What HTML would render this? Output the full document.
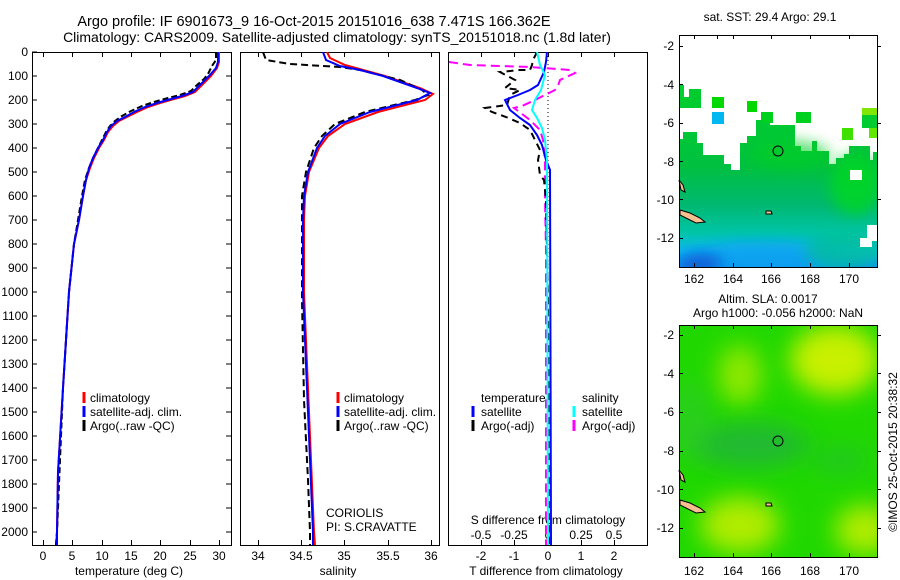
<!DOCTYPE html>
<html><head><meta charset="utf-8"><style>
html,body{margin:0;padding:0;background:#fff;}
svg{display:block;font-family:"Liberation Sans",sans-serif;}
text{font-size:12px;fill:#000;}
</style></head><body>
<svg width="900" height="580" viewBox="0 0 900 580" xmlns="http://www.w3.org/2000/svg">
<defs>
<linearGradient id="sst" x1="0" y1="0" x2="0" y2="1" gradientUnits="objectBoundingBox">
<stop offset="0" stop-color="#00cc30"/><stop offset="0.35" stop-color="#00c040"/>
<stop offset="0.6" stop-color="#00b870"/><stop offset="0.78" stop-color="#00c4a8"/>
<stop offset="0.9" stop-color="#10b8f0"/><stop offset="1" stop-color="#1090f0"/>
</linearGradient>
<filter id="bl" x="-50%" y="-50%" width="200%" height="200%"><feGaussianBlur stdDeviation="12"/></filter>
<filter id="bl2" x="-50%" y="-50%" width="200%" height="200%"><feGaussianBlur stdDeviation="7"/></filter>
<clipPath id="c1"><rect x="679" y="35" width="198" height="232"/></clipPath>
<clipPath id="c2"><rect x="679" y="325" width="198" height="232"/></clipPath>
<clipPath id="p1"><rect x="32" y="52" width="199" height="493"/></clipPath>
<clipPath id="p2"><rect x="240" y="52" width="199" height="493"/></clipPath>
<clipPath id="p3"><rect x="448" y="52" width="200" height="493"/></clipPath>
</defs>

<text x="314" y="26" text-anchor="middle" style="font-size:14.5px">Argo profile: IF 6901673_9 16-Oct-2015 20151016_638 7.471S 166.362E</text>
<text x="337" y="42" text-anchor="middle" style="font-size:14px">Climatology: CARS2009. Satellite-adjusted climatology: synTS_20151018.nc (1.8d later)</text>

<g fill="none" stroke="#000" stroke-width="1">
<rect x="32.5" y="52.5" width="199" height="493"/>
<rect x="240.5" y="52.5" width="199" height="493"/>
<rect x="448.5" y="52.5" width="199" height="493"/>
</g>
<g stroke="#000" stroke-width="1">
<path d="M32 52h5M32 76h5M32 100h5M32 124h5M32 148h5M32 172h5M32 196h5M32 220h5M32 244h5M32 268h5M32 292h5M32 316h5M32 340h5M32 364h5M32 388h5M32 412h5M32 436h5M32 460h5M32 484h5M32 508h5M32 532h5
M231 76h-5M231 100h-5M231 124h-5M231 148h-5M231 172h-5M231 196h-5M231 220h-5M231 244h-5M231 268h-5M231 292h-5M231 316h-5M231 340h-5M231 364h-5M231 388h-5M231 412h-5M231 436h-5M231 460h-5M231 484h-5M231 508h-5M231 532h-5"/>
<path d="M43.5 545v-5M72.5 545v-5M102.5 545v-5M131.5 545v-5M160.5 545v-5M190.5 545v-5M219.5 545v-5M43.5 52v5M72.5 52v5M102.5 52v5M131.5 52v5M160.5 52v5M190.5 52v5M219.5 52v5"/>
<path d="M258.5 545v-5M301.5 545v-5M344.5 545v-5M388.5 545v-5M431.5 545v-5M258.5 52v5M301.5 52v5M344.5 52v5M388.5 52v5M431.5 52v5"/>
<path d="M481.5 52v5M514.5 52v5M548.5 52v5M581.5 52v5M614.5 52v5M481.5 545v-5M514.5 545v-5M548.5 545v-5M581.5 545v-5M614.5 545v-5"/>
</g>
<g text-anchor="end">
<text x="28" y="56">0</text><text x="28" y="80">100</text><text x="28" y="104">200</text><text x="28" y="128">300</text><text x="28" y="152">400</text><text x="28" y="176">500</text><text x="28" y="200">600</text><text x="28" y="224">700</text><text x="28" y="248">800</text><text x="28" y="272">900</text><text x="28" y="296">1000</text><text x="28" y="320">1100</text><text x="28" y="344">1200</text><text x="28" y="368">1300</text><text x="28" y="392">1400</text><text x="28" y="416">1500</text><text x="28" y="440">1600</text><text x="28" y="464">1700</text><text x="28" y="488">1800</text><text x="28" y="512">1900</text><text x="28" y="536">2000</text>
</g>
<g text-anchor="middle">
<text x="43" y="560">0</text><text x="72" y="560">5</text><text x="102" y="560">10</text><text x="131" y="560">15</text><text x="160" y="560">20</text><text x="190" y="560">25</text><text x="219" y="560">30</text>
<text x="129" y="575">temperature (deg C)</text>
<text x="258" y="560">34</text><text x="301" y="560">34.5</text><text x="344" y="560">35</text><text x="388" y="560">35.5</text><text x="431" y="560">36</text>
<text x="338" y="575">salinity</text>
<text x="481" y="560">-2</text><text x="514" y="560">-1</text><text x="548" y="560">0</text><text x="581" y="560">1</text><text x="614" y="560">2</text>
<text x="546" y="575">T difference from climatology</text>
<text x="548" y="524">S difference from climatology</text>
<text x="481" y="539">-0.5</text><text x="514" y="539">-0.25</text><text x="548" y="539">0</text><text x="581" y="539">0.25</text><text x="614" y="539">0.5</text>
</g>

<g fill="none" stroke-width="2" clip-path="url(#p1)">
<polyline stroke="#f00" points="219,52 219,62 217,68 211,76 207,80 201,86 195,92 185,96 174,99 160,103 148,107 137,112 127,117 119,121 113,126 108,132 104,140 99,148 94,158 90,168 86,180 83,196 79,220 74,244 69,292 63,388 58,472 57,532 56,545"/>
<polyline stroke="#000" stroke-dasharray="6,3" points="216,52 216,60 212,66 208,74 204,79 197,85 191,91 180,95 168,98 154,102 142,106 131,111 122,116 115,121 110,126 106,132 102,140 98,148 93,158 89,168 85,180 82,196 78,220 74,244 69,292 63,388 57,532 56,545"/>
<polyline stroke="#00f" points="218,52 218,62 216,68 209,76 205,80 199,86 193,92 182,96 171,99 157,103 145,107 134,112 125,117 117,121 111,126 107,132 103,140 98,148 93,158 89,168 86,180 83,196 79,220 74,244 69,292 63,388 58,472 57,532 57,545"/>
</g>
<g fill="none" stroke-width="2" clip-path="url(#p2)">
<polyline stroke="#f00" points="327,52 330,58 345,65 385,76 420,88 433,94 425,100 378,112 345,124 328,136 319,148 309,172 305,196 304,220 304,292 306,340 308,388 311,460 314,532 315,545"/>
<polyline stroke="#000" stroke-dasharray="7,4" points="263,52 266,60 290,64 340,67 360,70 400,80 422,90 428,95 415,100 365,112 335,124 322,136 314,148 306,172 302,196 302,300 304,400 308,480 310,532 310,545"/>
<polyline stroke="#00f" points="323,52 326,60 340,66 360,70 383,76 417,88 430,93 417,100 370,112 340,124 325,136 317,148 308,172 304,196 303,220 303,292 305,340 307,388 310,460 313,532 313,545"/>
</g>
<g fill="none" clip-path="url(#p3)">
<line x1="548" y1="52" x2="548" y2="545" stroke="#000" stroke-width="1" stroke-dasharray="1,3"/>
<polyline stroke="#f0f" stroke-width="2" stroke-dasharray="9,5" points="449,62 470,65 530,67 570,70 575,73 560,80 558,86 555,90 545,95 535,100 522,106 514,108 530,120 540,130 543,140 545,160 545,200 546,250 546,400 546,545"/>
<polyline stroke="#000" stroke-width="2" stroke-dasharray="7,5" points="537,52 533,60 532,65 530,70 520,70 500,72 515,80 505,88 520,90 510,95 507,105 485,108 492,112 506,117 520,123 530,130 535,140 540,150 538,160 540,175 544,180 546,200 548,300 549,545"/>
<polyline stroke="#00f" stroke-width="2" points="547,52 546,62 544,72 538,85 530,90 518,95 505,100 510,110 520,118 530,125 537,135 542,145 546,160 550,170 551,545"/>
<polyline stroke="#0ff" stroke-width="2" points="537,52 540,65 545,75 541,90 535,100 532,110 537,118 542,128 545,140 547,160 548,545"/>
</g>

<g stroke-width="3">
<line x1="84" y1="392" x2="84" y2="403" stroke="#f00"/><line x1="84" y1="406" x2="84" y2="417" stroke="#00f"/><line x1="84" y1="420" x2="84" y2="431" stroke="#000"/>
<line x1="338" y1="392" x2="338" y2="403" stroke="#f00"/><line x1="338" y1="406" x2="338" y2="417" stroke="#00f"/><line x1="338" y1="420" x2="338" y2="431" stroke="#000"/>
<line x1="473" y1="406" x2="473" y2="417" stroke="#00f"/><line x1="473" y1="420" x2="473" y2="431" stroke="#000"/>
<line x1="574" y1="406" x2="574" y2="417" stroke="#0ff"/><line x1="574" y1="420" x2="574" y2="431" stroke="#f0f"/>
</g>
<text x="90" y="402">climatology</text><text x="90" y="416">satellite-adj. clim.</text><text x="90" y="430">Argo(..raw -QC)</text>
<text x="344" y="402">climatology</text><text x="344" y="416">satellite-adj. clim.</text><text x="344" y="430">Argo(..raw -QC)</text>
<text x="481" y="402">temperature</text><text x="481" y="416">satellite</text><text x="481" y="430">Argo(-adj)</text>
<text x="582" y="402">salinity</text><text x="582" y="416">satellite</text><text x="582" y="430">Argo(-adj)</text>
<text x="326" y="517">CORIOLIS</text><text x="326" y="531">PI: S.CRAVATTE</text>

<text x="770" y="21" text-anchor="middle">sat. SST: 29.4 Argo: 29.1</text>
<g clip-path="url(#c1)">
<polygon fill="url(#sst)" points="679,139 683,139 683,132 697,132 697,143 703,143 703,155 724,155 724,164 731,164 731,170 740,170 740,143 747,143 747,136 756,136 756,120 761,120 761,112 770,112 770,125 795,125 795,146 801,146 801,151 812,151 812,141 817,141 817,151 829,151 829,164 836,164 836,158 844,158 844,154 849,154 849,146 870,146 870,160 873,160 873,152 877,152 877,267 679,267"/>
<ellipse cx="765" cy="262" rx="80" ry="20" fill="#10a0f0" filter="url(#bl2)" opacity="0.8"/>
<ellipse cx="700" cy="264" rx="22" ry="10" fill="#1050d0" filter="url(#bl2)" opacity="0.8"/>
<ellipse cx="845" cy="250" rx="40" ry="20" fill="#00c090" filter="url(#bl2)" opacity="0.7"/>
<ellipse cx="855" cy="185" rx="25" ry="30" fill="#00d820" filter="url(#bl2)" opacity="0.8"/>
<ellipse cx="790" cy="155" rx="40" ry="15" fill="#00d020" filter="url(#bl2)" opacity="0.6"/>
<rect x="850" y="170" width="12" height="10" fill="#fff"/>
<rect x="867" y="225" width="10" height="16" fill="#fff"/>
<rect x="860" y="238" width="12" height="9" fill="#fff"/>
</g>
<g>
<rect x="680" y="97" width="21" height="11" fill="#00cc30"/><rect x="689" y="89" width="12" height="9" fill="#00cc30"/><rect x="680" y="85" width="4" height="12" fill="#00d030"/>
<rect x="712" y="97" width="12" height="11" fill="#00d800"/>
<rect x="712" y="112" width="12" height="12" fill="#00b8f0"/>
<rect x="747" y="101" width="10" height="11" fill="#00d800"/>
<rect x="762" y="112" width="11" height="11" fill="#00d020"/>
<rect x="796" y="112" width="15" height="11" fill="#00d020"/>
<rect x="862" y="108" width="15" height="8" fill="#80e800"/><rect x="862" y="115" width="15" height="13" fill="#00cc30"/><rect x="869" y="128" width="8" height="10" fill="#60e800"/>
<rect x="842" y="128" width="11" height="12" fill="#40e000"/>
</g>
<g fill="#f8c090" stroke="#000" stroke-width="1">
<path d="M680 210 L690 213 L700 218 L705 222 L696 223 L686 218 L680 215Z"/>
<path d="M679 180 L683 185 L685 192 L681 190 Z"/>
<path d="M766 211 l5 0 l1 3 l-6 0z"/>
</g>
<circle cx="778" cy="151" r="5" fill="none" stroke="#000"/>
<rect x="679.5" y="35.5" width="198" height="232" fill="none" stroke="#000"/>
<g stroke="#000"><path d="M694.5 35v4M717.5 35v4M733.5 35v4M771.5 35v4M810.5 35v4M849.5 35v4M694.5 267v-4M733.5 267v-4M771.5 267v-4M810.5 267v-4M849.5 267v-4M679 46.5h4M679 84.5h4M679 123.5h4M679 161.5h4M679 199.5h4M679 238.5h4M877 46.5h4M877 123.5h4M877 199.5h4"/></g>
<g text-anchor="end"><text x="674" y="50">-2</text><text x="674" y="89">-4</text><text x="674" y="127">-6</text><text x="674" y="166">-8</text><text x="674" y="204">-10</text><text x="674" y="242">-12</text></g>
<g text-anchor="middle"><text x="694" y="283">162</text><text x="733" y="283">164</text><text x="771" y="283">166</text><text x="810" y="283">168</text><text x="849" y="283">170</text></g>

<text x="768" y="303" text-anchor="middle">Altim. SLA: 0.0017</text>
<text x="778" y="317" text-anchor="middle">Argo h1000: -0.056 h2000: NaN</text>
<g clip-path="url(#c2)">
<rect x="679" y="325" width="198" height="232" fill="#20d800"/>
<ellipse cx="835" cy="360" rx="45" ry="35" fill="#c8f000" filter="url(#bl)"/>
<ellipse cx="740" cy="375" rx="22" ry="30" fill="#90e800" filter="url(#bl)"/>
<ellipse cx="740" cy="525" rx="40" ry="28" fill="#b0ec00" filter="url(#bl)"/>
<ellipse cx="865" cy="530" rx="30" ry="25" fill="#b0ec00" filter="url(#bl)"/>
<ellipse cx="750" cy="445" rx="60" ry="22" fill="#20b040" filter="url(#bl)" opacity="0.8"/>
<ellipse cx="840" cy="460" rx="30" ry="15" fill="#20c030" filter="url(#bl)" opacity="0.6"/>
<ellipse cx="690" cy="420" rx="20" ry="40" fill="#30c830" filter="url(#bl)" opacity="0.6"/>
</g>
<g fill="#f8c090" stroke="#000" stroke-width="1">
<path d="M680 500 L690 503 L700 508 L705 512 L696 513 L686 508 L680 505Z"/>
<path d="M679 470 L683 475 L685 482 L681 480 Z"/>
<path d="M766 503 l5 0 l1 3 l-6 0z"/>
</g>
<circle cx="778" cy="441" r="5" fill="none" stroke="#000"/>
<rect x="679.5" y="325.5" width="198" height="232" fill="none" stroke="#000"/>
<g stroke="#000"><path d="M694.5 325v4M733.5 325v4M771.5 325v4M810.5 325v4M849.5 325v4M694.5 557v-4M733.5 557v-4M771.5 557v-4M810.5 557v-4M849.5 557v-4M679 335.5h4M679 373.5h4M679 412.5h4M679 451.5h4M679 489.5h4M679 528.5h4M877 335.5h4M877 373.5h4M877 412.5h4M877 451.5h4M877 489.5h4M877 528.5h4"/></g>
<g text-anchor="end"><text x="674" y="339">-2</text><text x="674" y="378">-4</text><text x="674" y="416">-6</text><text x="674" y="455">-8</text><text x="674" y="494">-10</text><text x="674" y="532">-12</text></g>
<g text-anchor="middle"><text x="694" y="575">162</text><text x="733" y="575">164</text><text x="771" y="575">166</text><text x="810" y="575">168</text><text x="849" y="575">170</text></g>
<text x="0" y="0" transform="translate(897,452) rotate(-90)" text-anchor="middle">©IMOS 25-Oct-2015 20:38:32</text>
</svg>
</body></html>
